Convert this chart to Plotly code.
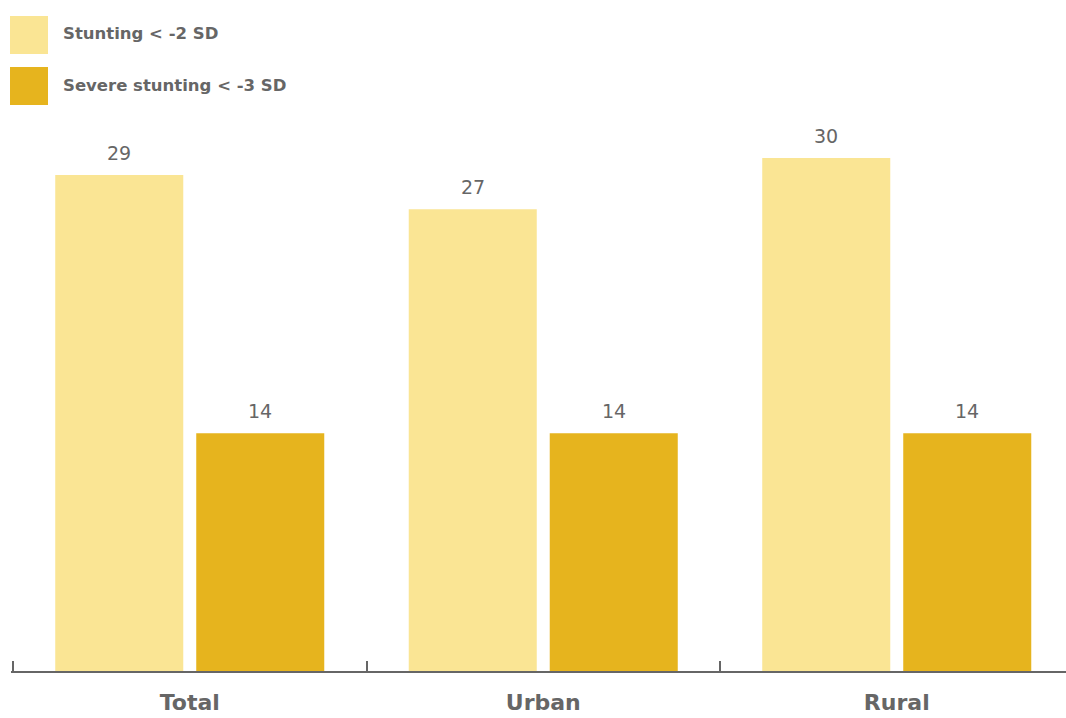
import plotly.graph_objects as go

categories = ["Total", "Urban", "Rural"]
series_names = ["Stunting < -2 SD", "Severe stunting < -3 SD"]
stunting = [29.0, 27.0, 30.0]
severe_stunting = [13.9, 13.9, 13.9]
colors = ["#FAE594", "#E6B41E"]

W, H = 1066, 718
ML, MR, MT, MB = 11, 0, 130, 47
PW, PH = W - ML - MR, H - MT - MB

def px_x(x):
    return (x - ML) / PW

def px_y(y):
    return (H - MB - y) / PH

FONT = "'DejaVu Sans', sans-serif"
TXT = "#666666"

cat_w = 353.5
bargap, bargroupgap = 0.2023, 0.092
slot = cat_w * (1 - bargap) / 2
x0 = -0.5 - 2 / cat_w

fig = go.Figure()
annotations = []
for k, (name, vals, col) in enumerate(zip(series_names, [stunting, severe_stunting], colors)):
    fig.add_trace(go.Bar(
        x=categories, y=vals, name=name, marker_color=col, marker_line_width=0,
        showlegend=False, hoverinfo="x+y+name",
    ))
    shift = (k - 0.5) * slot
    for c, v in zip(categories, vals):
        annotations.append(dict(x=c, y=v, xref="x", yref="y", text=f"{v:.0f}",
                                showarrow=False, xanchor="center", yanchor="bottom",
                                xshift=shift, yshift=9,
                                font=dict(family=FONT, size=19, color=TXT)))

# custom legend
shapes = []
for i, (name, col) in enumerate(zip(series_names, colors)):
    y0 = 16 + i * 51
    shapes.append(dict(type="rect", xref="paper", yref="paper",
                       x0=px_x(10), x1=px_x(48), y0=px_y(y0), y1=px_y(y0 + 38),
                       fillcolor=col, line_width=0))
    annotations.append(dict(xref="paper", yref="paper", x=px_x(61), y=px_y(y0 + 18),
                            xanchor="left", yanchor="middle", text=name, showarrow=False,
                            font=dict(family=FONT, size=16.5, color=TXT, weight=600)))

fig.update_layout(
    width=W, height=H,
    margin=dict(l=ML, r=MR, t=MT, b=MB, autoexpand=False),
    paper_bgcolor="white", plot_bgcolor="white",
    barmode="group", bargap=bargap, bargroupgap=bargroupgap,
    shapes=shapes, annotations=annotations,
    xaxis=dict(range=[x0, x0 + PW / cat_w], showline=True, linecolor=TXT, linewidth=2,
               ticks="inside", tickson="boundaries", ticklen=10, tickwidth=2, tickcolor=TXT,
               tickfont=dict(family=FONT, size=22, color=TXT, weight=700), showgrid=False,
               ticklabelstandoff=11, automargin=False),
    yaxis=dict(range=[0, PH / 17.1], visible=False, showgrid=False, automargin=False),
)
fig.write_html("out.html", config={"displayModeBar": False},
               post_script="document.body.style.margin='0';document.body.style.overflow='hidden';")
